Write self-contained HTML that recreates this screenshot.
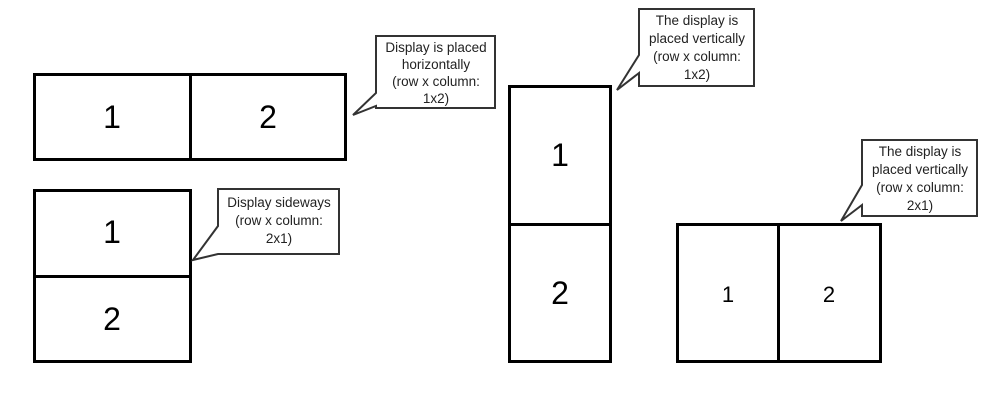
<!DOCTYPE html>
<html><head><meta charset="utf-8"><style>
html,body{margin:0;padding:0;background:#fff;}
</style></head><body>
<svg width="988" height="410" xmlns="http://www.w3.org/2000/svg" style="display:block">
<g fill="#fff" stroke="#000" stroke-width="3">
<rect x="34.5" y="74.5" width="311" height="85"/>
<line x1="190.5" y1="74" x2="190.5" y2="160"/>
<rect x="34.5" y="190.5" width="156" height="171"/>
<line x1="34" y1="276.5" x2="191" y2="276.5"/>
<rect x="509.5" y="86.5" width="101" height="275"/>
<line x1="509" y1="224.5" x2="611" y2="224.5"/>
<rect x="677.5" y="224.5" width="203" height="137"/>
<line x1="778.5" y1="224" x2="778.5" y2="362"/>
</g>
<g font-family="Liberation Sans, sans-serif" font-size="32" text-anchor="middle" fill="#000">
<text x="112" y="128">1</text><text x="268" y="128">2</text>
<text x="112" y="243">1</text><text x="112" y="330">2</text>
<text x="560" y="166">1</text><text x="560" y="304">2</text>
</g>
<g font-family="Liberation Sans, sans-serif" font-size="22" text-anchor="middle" fill="#000">
<text x="728" y="302">1</text><text x="829" y="302">2</text>
</g>
<g fill="#fff" stroke="#333" stroke-width="2">
<path d="M376,36 H495 V108 H376 V106 L353,115 L376,93 Z"/>
<path d="M218,189 H339 V254 H218 L193,260 L218,226 Z"/>
<path d="M639,9 H754 V86 H639 V73 L617,90 L639,55 Z"/>
<path d="M862,140 H977 V216 H862 V205 L841,221 L862,185 Z"/>
</g>
<g font-family="Liberation Sans, sans-serif" font-size="13.5" text-anchor="middle" fill="#222">
<text x="436" y="52">Display is placed</text>
<text x="436" y="69">horizontally</text>
<text x="436" y="86">(row x column:</text>
<text x="436" y="103">1x2)</text>
<text x="279" y="207">Display sideways</text>
<text x="279" y="225">(row x column:</text>
<text x="279" y="243">2x1)</text>
<text x="697" y="25">The display is</text>
<text x="697" y="43">placed vertically</text>
<text x="697" y="61">(row x column:</text>
<text x="697" y="79">1x2)</text>
<text x="920" y="156">The display is</text>
<text x="920" y="174">placed vertically</text>
<text x="920" y="192">(row x column:</text>
<text x="920" y="210">2x1)</text>
</g>
</svg>
</body></html>
